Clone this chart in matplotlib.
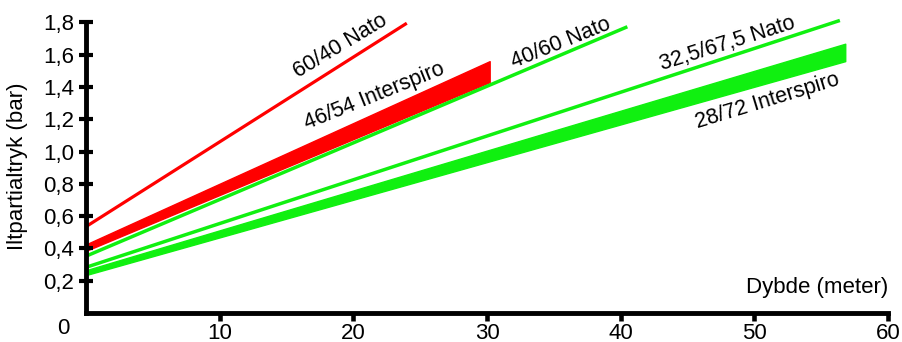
import numpy as np
import matplotlib
matplotlib.use("Agg")
import matplotlib.pyplot as plt

# values (depth in m, O2 partial pressure in bar)
nato_60_40_x = [0, 24.0]
nato_60_40_y = [0.535, 1.795]

inter_46_54_x = [0, 30.2]
inter_46_54_lo = [0.385, 1.43]
inter_46_54_hi = [0.425, 1.56]

nato_40_60_x = [0, 40.5]
nato_40_60_y = [0.352, 1.773]

nato_325_675_x = [0, 56.4]
nato_325_675_y = [0.283, 1.812]

inter_28_72_x = [0, 56.8]
inter_28_72_lo = [0.235, 1.56]
inter_28_72_hi = [0.265, 1.668]

x_ticks = [10, 20, 30, 40, 50, 60]
y_ticks = [0.2, 0.4, 0.6, 0.8, 1.0, 1.2, 1.4, 1.6, 1.8]
y_ticklabels = ["0,2", "0,4", "0,6", "0,8", "1,0", "1,2", "1,4", "1,6", "1,8"]

# label text, position, rotation
labels = [
    ("60/40 Nato", 19.0, 1.65, 31),
    ("46/54 Interspiro", 21.6, 1.34, 22),
    ("40/60 Nato", 35.5, 1.67, 22),
    ("32,5/67,5 Nato", 48.0, 1.67, 17.5),
    ("28/72 Interspiro", 51.0, 1.315, 17),
]

RED = "#ff0000"
GREEN = "#10f010"
fam = ["Liberation Sans", "DejaVu Sans"]

fig = plt.figure(figsize=(9.02, 3.42), dpi=100)
ax = fig.add_axes([86 / 902, (342 - 313) / 342, (888 - 86) / 902, (313 - 22.4) / 342])

ax.plot(nato_60_40_x, nato_60_40_y, color=RED, lw=2.3, clip_on=False, solid_capstyle="butt")
ax.fill_between(inter_46_54_x, inter_46_54_lo, inter_46_54_hi, color=RED, lw=1, clip_on=False)
ax.plot(nato_40_60_x, nato_40_60_y, color=GREEN, lw=2.5, clip_on=False, solid_capstyle="butt")
ax.plot(nato_325_675_x, nato_325_675_y, color=GREEN, lw=2.5, clip_on=False, solid_capstyle="butt")
ax.fill_between(inter_28_72_x, inter_28_72_lo, inter_28_72_hi, color=GREEN, lw=1, clip_on=False)

for txt, x, y, rot in labels:
    ax.text(x, y, txt, rotation=rot, ha="center", va="center", fontsize=15.5,
            family=fam, rotation_mode="anchor")

ax.set_xlim(0, 60)
ax.set_ylim(0, 1.8)
for s in ["top", "right"]:
    ax.spines[s].set_visible(False)
for s in ["left", "bottom"]:
    ax.spines[s].set_linewidth(3.5)
    ax.spines[s].set_capstyle("projecting")

ax.set_xticks(x_ticks)
ax.set_xticklabels([str(t) for t in x_ticks], family=fam, fontsize=16)
ax.set_yticks(y_ticks)
ax.set_yticklabels(y_ticklabels, family=fam, fontsize=16)
ax.tick_params(axis="x", direction="out", length=6, width=3.3, pad=1)
ax.tick_params(axis="y", direction="inout", length=9.5, width=3, pad=4)

ax.annotate("0", xy=(0, 0), xytext=(-16, -11), textcoords="offset points",
            ha="center", va="center", fontsize=16, family=fam, annotation_clip=False)
ax.text(60, 0.125, "Dybde (meter)", ha="right", va="baseline", fontsize=16, family=fam)
fig.text(18 / 902, 1 - 166 / 342, "Iltpartialtryk (bar)", rotation=90, ha="center",
         va="center", fontsize=16, family=fam)

fig.savefig("out.png", dpi=100)
